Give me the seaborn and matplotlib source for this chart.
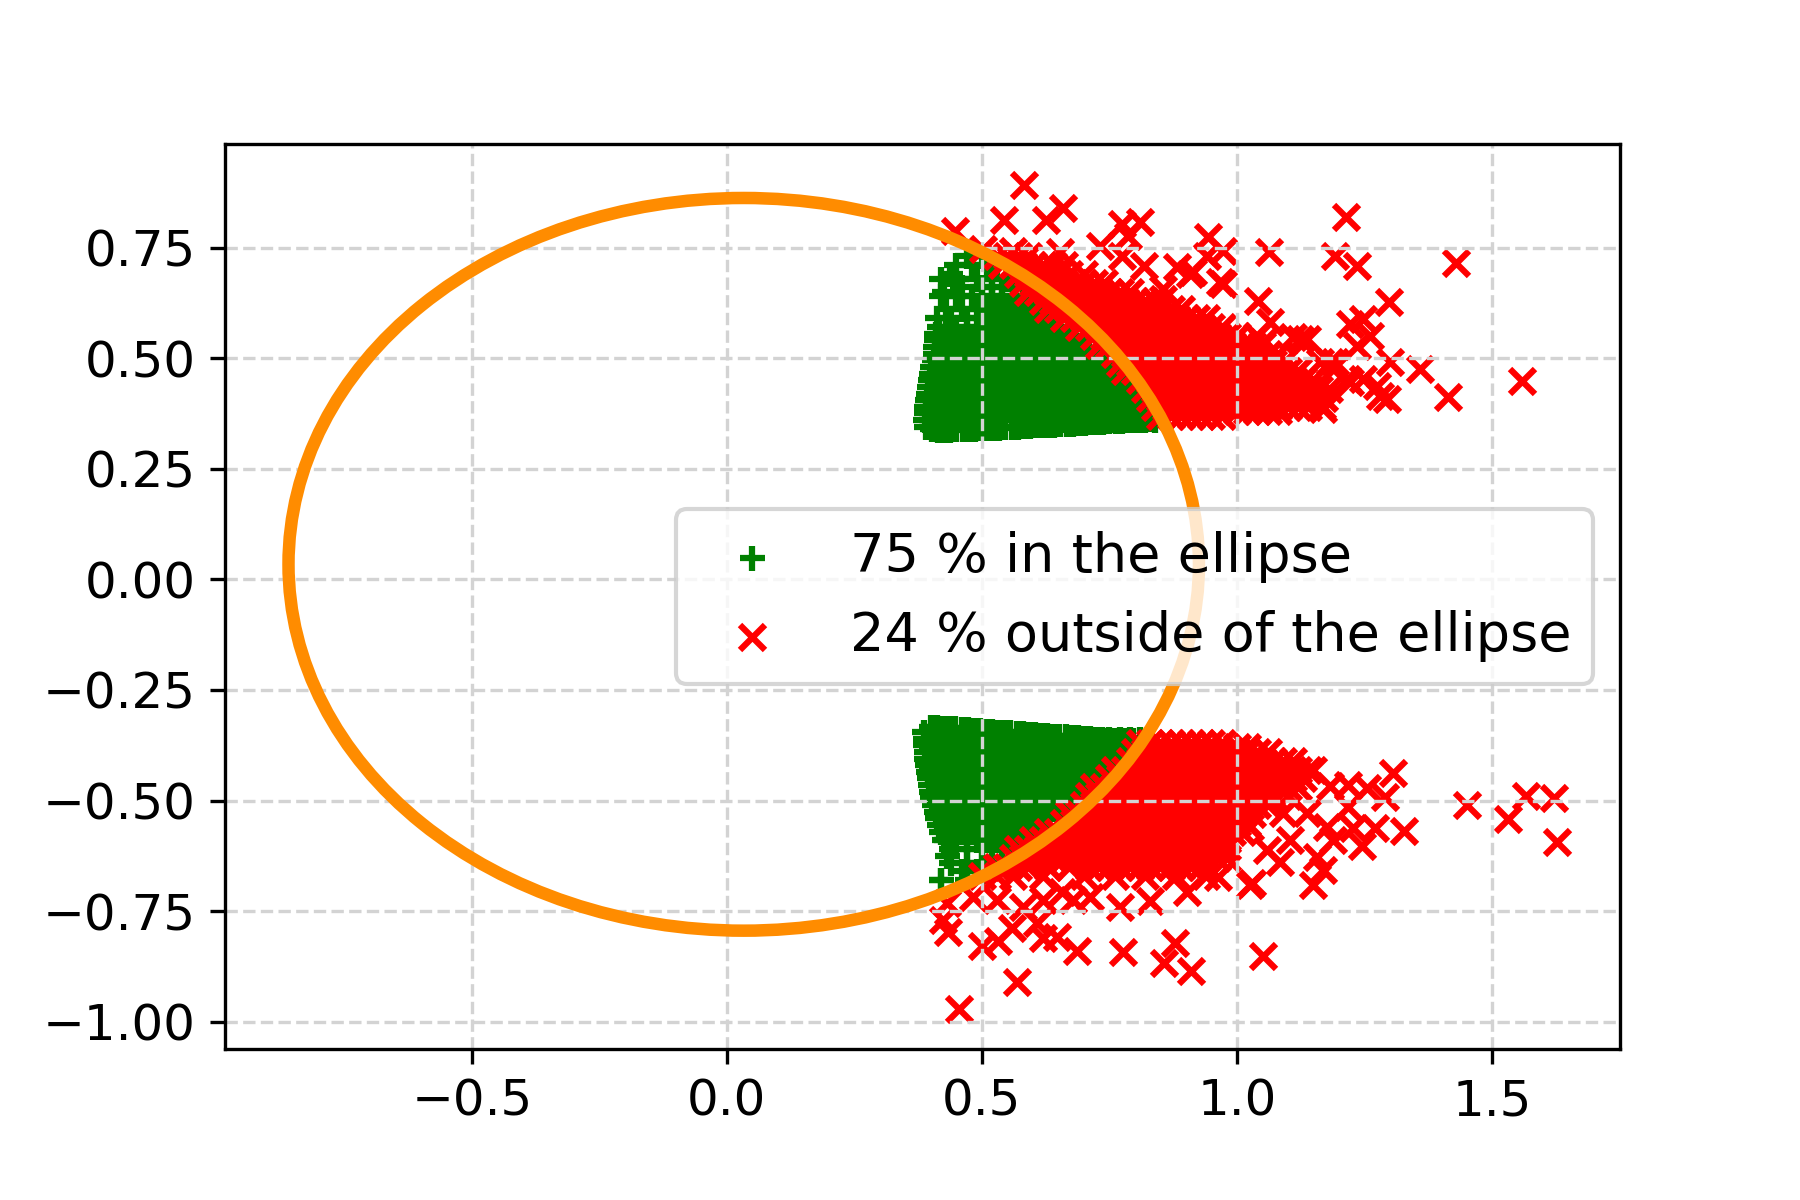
import pandas as pd
import seaborn as sns
import matplotlib
matplotlib.use("Agg")
import matplotlib.pyplot as plt
from matplotlib.patches import Ellipse

LABEL_IN = "75 % in the ellipse"
LABEL_OUT = "24 % outside of the ellipse"

X_TICKS = [-0.5, 0.0, 0.5, 1.0, 1.5]
Y_TICKS = [-1.0, -0.75, -0.5, -0.25, 0.0, 0.25, 0.5, 0.75]

ELLIPSE_CENTER = (0.033, 0.034)
ELLIPSE_WIDTH = 1.785
ELLIPSE_HEIGHT = 1.656

green_top = {
    .36: [.40, .42, .44, .46, .48, .50, .52, .54, .56, .58, .60, .62, .64, .66, .68, .70, .72, .74, .76, .78, .80, .82, .84],
    .39: [.39, .41, .43, .45, .47, .49, .51, .53, .55, .57, .59, .61, .63, .65, .67, .69, .71, .73, .75, .77, .79, .81, .83],
    .41: [.40, .42, .44, .46, .48, .50, .52, .54, .56, .58, .60, .62, .64, .66, .68, .70, .72, .74, .76, .78, .80, .82],
    .43: [.41, .43, .45, .47, .49, .51, .53, .55, .57, .59, .61, .63, .65, .67, .69, .71, .73, .75, .77, .79],
    .45: [.40, .42, .44, .46, .48, .50, .52, .54, .56, .58, .60, .62, .64, .66, .68, .70, .72, .74, .76, .78],
    .48: [.41, .43, .45, .47, .49, .51, .53, .55, .57, .59, .61, .63, .65, .67, .69, .71, .73, .75, .77],
    .50: [.42, .44, .46, .48, .50, .52, .54, .56, .58, .60, .62, .64, .66, .68, .70, .72, .74, .76],
    .52: [.43, .45, .47, .49, .51, .53, .55, .57, .59, .61, .63, .65, .67, .69, .71, .73],
    .55: [.42, .44, .46, .48, .50, .52, .54, .56, .58, .60, .62, .64, .66, .68, .70],
    .57: [.43, .45, .47, .49, .51, .53, .55, .57, .59, .61, .63, .65, .67],
    .59: [.44, .47, .50, .52, .54, .56, .58, .60, .62, .64],
    .61: [.43, .46, .49, .51, .53, .55, .57, .59, .61, .63],
    .64: [.42, .45, .48, .50, .52, .54, .56, .58, .60],
    .66: [.46, .50, .52, .54, .56, .58],
    .68: [.42, .45, .49, .52, .55],
    .71: [.45, .48, .51, .53],
    .73: [.47, .50],
}
green_low = {
    -.36: [.41, .43, .45, .47, .49, .51, .53, .55, .57, .59, .61, .63, .65, .67, .69, .71, .73, .75, .77, .79, .81],
    -.38: [.40, .42, .44, .46, .48, .50, .52, .54, .56, .58, .60, .62, .64, .66, .68, .70, .72, .74, .76, .78, .80],
    -.41: [.41, .43, .45, .47, .49, .51, .53, .55, .57, .59, .61, .63, .65, .67, .69, .71, .73, .75, .77],
    -.43: [.40, .42, .44, .46, .48, .50, .52, .54, .56, .58, .60, .62, .64, .66, .68, .70, .72, .74, .76],
    -.45: [.41, .43, .45, .47, .49, .51, .53, .55, .57, .59, .61, .63, .65, .67, .69, .71, .73],
    -.47: [.42, .44, .46, .48, .50, .52, .54, .56, .58, .60, .62, .64, .66, .68, .70, .72],
    -.50: [.43, .45, .47, .49, .51, .53, .55, .57, .59, .61, .63, .65, .67, .69],
    -.52: [.42, .44, .46, .48, .50, .52, .54, .56, .58, .60, .62, .64, .66, .68],
    -.54: [.43, .45, .47, .49, .51, .53, .55, .57, .59, .61, .63, .65],
    -.57: [.44, .46, .48, .50, .52, .54, .56, .58, .60, .62],
    -.59: [.43, .45, .47, .49, .51, .53, .55, .57, .59, .61],
    -.61: [.44, .47, .50, .52, .54, .56, .58],
    -.64: [.44, .47, .50, .52, .54],
    -.66: [.46, .49, .51],
    -.68: [.42, .47],
}

# outline of the green parts, these hold the edges smooth
green_edge_x = [
    .390, .402, .414, .426, .438, .450, .462, .474, .486, .498, .510, .522, .534, .546, .558, .570, .582, .594, .606, .618,
    .630, .642, .654, .666, .678, .690, .702, .714, .726, .738, .750, .762, .774, .786, .798, .810, .822, .834,
    .388, .390, .392, .393, .395, .396, .398, .400, .403, .406, .408, .408, .410, .410, .415, .412, .425, .437,
    .400, .412, .424, .436, .448, .460, .472, .484, .496, .508, .520, .532, .544, .556, .568, .580, .592, .604, .616, .628,
    .640, .652, .664, .676, .688, .700, .712, .724, .736, .748, .760, .772, .784, .796,
    .387, .388, .389, .390, .391, .392, .394, .396, .398, .400, .403, .406, .409, .412, .416, .420, .426, .432, .419,
]
green_edge_y = [
    .345, .339, .337, .338, .338, .339, .339, .340, .340, .341, .342, .342, .343, .344, .344, .345, .346, .347, .348, .348,
    .349, .350, .351, .352, .352, .353, .354, .355, .356, .356, .357, .358, .359, .360, .360, .361, .362, .362,
    .360, .375, .390, .405, .420, .435, .450, .465, .480, .495, .510, .525, .540, .555, .570, .590, .650, .690,
    -.333, -.334, -.335, -.336, -.337, -.338, -.339, -.340, -.341, -.342, -.343, -.344, -.345, -.346, -.347, -.348, -.349, -.350, -.351, -.352,
    -.353, -.354, -.355, -.356, -.357, -.358, -.359, -.360, -.361, -.362, -.363, -.363, -.364, -.364,
    -.345, -.360, -.375, -.390, -.405, -.420, -.435, -.450, -.465, -.480, -.495, -.510, -.525, -.540, -.555, -.570, -.590, -.625, -.679,
]

red_top = {
    .37: [.85, .87, .89, .91, .93, .95, .97],
    .38: [1.00, 1.02, 1.04, 1.06, 1.08],
    .39: [.84, .86, .88, .90, .92, .94, .96, .98, 1.00, 1.02, 1.04, 1.06, 1.08, 1.10, 1.12, 1.14],
    .41: [.83, .85, .87, .89, .91, .93, .95, .97, .99, 1.01, 1.03, 1.05, 1.07, 1.09, 1.11, 1.13, 1.15, 1.17],
    .43: [.82, .84, .86, .88, .90, .92, .94, .96, .98, 1.00, 1.02, 1.04, 1.06, 1.08, 1.10, 1.12, 1.14, 1.16, 1.18],
    .45: [.81, .83, .85, .87, .89, .91, .93, .95, .97, .99, 1.01, 1.03, 1.05, 1.07, 1.09, 1.11, 1.13, 1.15],
    .47: [.78, .80, .82, .84, .86, .88, .90, .92, .94, .96, .98, 1.00, 1.02, 1.04, 1.06, 1.08, 1.10, 1.12],
    .49: [.77, .79, .81, .83, .85, .87, .89, .91, .93, .95, .97, .99, 1.01, 1.03, 1.05, 1.07, 1.09],
    .51: [.76, .78, .80, .82, .84, .86, .88, .90, .92, .94, .96, .98, 1.00, 1.02, 1.04, 1.06, 1.08],
    .53: [.73, .75, .77, .79, .81, .83, .85, .87, .89, .91, .93, .95, .97, .99, 1.01, 1.03, 1.05],
    .55: [.72, .74, .76, .78, .80, .82, .84, .86, .88, .90, .92, .94, .96, .98, 1.00],
    .57: [.69, .71, .73, .75, .77, .79, .81, .83, .85, .87, .89, .91, .93, .95, .97],
    .59: [.66, .68, .70, .72, .74, .76, .78, .80, .82, .84, .86, .88, .90, .92, .94],
    .61: [.63, .65, .67, .69, .71, .73, .75, .77, .79, .81, .83, .85, .87, .89],
    .63: [.62, .64, .66, .68, .70, .72, .74, .76, .78, .80, .82, .84],
    .65: [.59, .61, .63, .65, .67, .69, .71, .73, .75, .77, .79],
    .67: [.58, .60, .62, .64, .66, .68, .70, .72, .74],
    .69: [.57, .59, .61, .63, .65, .67, .70],
    .71: [.54, .56, .58, .60, .62, .64, .66],
    .73: [.53, .55, .57, .59],
}
red_low = {
    -.37: [.81, .83, .85, .87, .89, .91, .93, .95, .97],
    -.38: [1.00, 1.02],
    -.39: [.80, .82, .84, .86, .88, .90, .92, .94, .96, .98, 1.00, 1.02, 1.04, 1.06],
    -.41: [.79, .81, .83, .85, .87, .89, .91, .93, .95, .97, .99, 1.01, 1.03, 1.05, 1.07, 1.09, 1.11],
    -.43: [.76, .78, .80, .82, .84, .86, .88, .90, .92, .94, .96, .98, 1.00, 1.02, 1.04, 1.06, 1.08, 1.10, 1.12, 1.14],
    -.45: [.75, .77, .79, .81, .83, .85, .87, .89, .91, .93, .95, .97, .99, 1.01, 1.03, 1.05, 1.07, 1.09, 1.11, 1.13],
    -.47: [.72, .74, .76, .78, .80, .82, .84, .86, .88, .90, .92, .94, .96, .98, 1.00, 1.02, 1.04, 1.06, 1.08, 1.10, 1.12],
    -.49: [.71, .73, .75, .77, .79, .81, .83, .85, .87, .89, .91, .93, .95, .97, .99, 1.01, 1.03, 1.05, 1.07, 1.10],
    -.51: [.70, .72, .74, .76, .78, .80, .82, .84, .86, .88, .90, .92, .94, .96, .98, 1.00, 1.02, 1.04, 1.06],
    -.53: [.67, .69, .71, .73, .75, .77, .79, .81, .83, .85, .87, .89, .91, .93, .95, .97, .99, 1.01, 1.03],
    -.55: [.66, .68, .70, .72, .74, .76, .78, .80, .82, .84, .86, .88, .90, .92, .94, .96, .98, 1.00, 1.02],
    -.57: [.63, .65, .67, .69, .71, .73, .75, .77, .79, .81, .83, .85, .87, .89, .91, .93, .95, .97, .99, 1.01],
    -.59: [.60, .62, .64, .66, .68, .70, .72, .74, .76, .78, .80, .82, .84, .86, .88, .90, .92, .94, .96, .98],
    -.61: [.57, .59, .61, .63, .65, .67, .69, .71, .73, .75, .77, .79, .81, .83, .85, .87, .89, .91, .93, .95, .97],
    -.63: [.56, .58, .60, .62, .64, .66, .68, .70, .72, .74, .76, .78, .80, .82, .84, .86, .88, .90, .92, .94, .96, .98],
    -.65: [.53, .55, .57, .59, .63, .67, .71, .73, .75, .77, .79, .81, .83, .85, .87, .89, .91, .93],
    -.67: [.50, .53, .56, .62, .70, .76, .82, .88, .94],
}

# loose crosses around the dense parts
red_out_x = [
    .583, .543, .625, .659, .447, .775, .810, .786, .731, .775, .818, .882, .943, .973, .941, 1.063,
    1.192, 1.214, 1.235, 1.430, 1.559, 1.298, 1.247, 1.222, 1.261, 1.235, 1.359, 1.414, 1.300, 1.294,
    1.280, 1.247, 1.192, 1.167, 1.137, 1.110, 1.051, 1.041, .967, .914, .855, .973, .908, .855,
    1.039, 1.065, 1.124, 1.182, 1.149, 1.169, 1.216, 1.188, 1.222, 1.275, 1.163, .502, .561, .653,
    .455, .569, .686, .776, .878, .857, .910, 1.051, .433, .500, .531, .559, .620, .647, .424, .529,
    .580, .608, .771, .829, .902, 1.030, 1.149, .679, .712, .657, .620, .482, .431,
    1.306, 1.451, 1.567, 1.531, 1.622, 1.627, 1.327, 1.245, 1.271, 1.290, 1.255, 1.218, 1.218, 1.149,
    1.182, 1.227, 1.025, 1.084, 1.059, 1.157, 1.169, .980, .963, 1.188, 1.137, 1.176, 1.104, 1.025, 1.090,
]
red_out_y = [
    .892, .812, .813, .839, .787, .803, .808, .776, .754, .731, .709, .706, .774, .742, .731, .740,
    .731, .819, .709, .715, .448, .627, .588, .577, .550, .527, .475, .412, .491, .407,
    .414, .452, .491, .391, .543, .547, .536, .629, .672, .695, .633, .667, .690, .656,
    .550, .581, .543, .491, .414, .385, .452, .475, .446, .437, .491, .747, .742, .740,
    -.971, -.909, -.841, -.842, -.822, -.866, -.885, -.851, -.796, -.828, -.817, -.787, -.810, -.808, -.769, -.724,
    -.740, -.776, -.740, -.728, -.706, -.686, -.690, -.724, -.717, -.706, -.724, -.717, -.731,
    -.437, -.511, -.489, -.541, -.495, -.593, -.568, -.602, -.561, -.493, -.471, -.464, -.514, -.430,
    -.468, -.561, -.690, -.638, -.611, -.627, -.656, -.604, -.672, -.588, -.527, -.559, -.588, -.559, -.527,
]


def rows_to_frame(*blocks):
    pts = [(x, y) for rows in blocks for y, xs in rows.items() for x in xs]
    return pd.DataFrame(pts, columns=["x", "y"])


green = pd.concat([rows_to_frame(green_top, green_low),
                   pd.DataFrame({"x": green_edge_x, "y": green_edge_y})])
red = pd.concat([rows_to_frame(red_top, red_low),
                 pd.DataFrame({"x": red_out_x, "y": red_out_y})])

fig = plt.figure(figsize=(6, 4), dpi=300)
ax = fig.add_axes([0.125, 0.126, 0.775, 0.754])

sns.scatterplot(data=green, x="x", y="y", marker="+", color="green", s=36, linewidth=1.5, label=LABEL_IN, ax=ax)
sns.scatterplot(data=red, x="x", y="y", marker="x", color="red", s=36, linewidth=1.5, label=LABEL_OUT, ax=ax)

ax.add_patch(Ellipse(ELLIPSE_CENTER, ELLIPSE_WIDTH, ELLIPSE_HEIGHT, fill=False, edgecolor="darkorange", linewidth=3, zorder=2))

ax.set_xlim(-0.984, 1.751)
ax.set_ylim(-1.061, 0.984)
ax.set_xticks(X_TICKS)
ax.set_yticks(Y_TICKS)
ax.set_xlabel("")
ax.set_ylabel("")
ax.tick_params(labelsize=12)
ax.grid(True, color="lightgray", linestyle="--")
ax.legend(loc="center right", fontsize=13)

fig.savefig("out.png", dpi=300)
